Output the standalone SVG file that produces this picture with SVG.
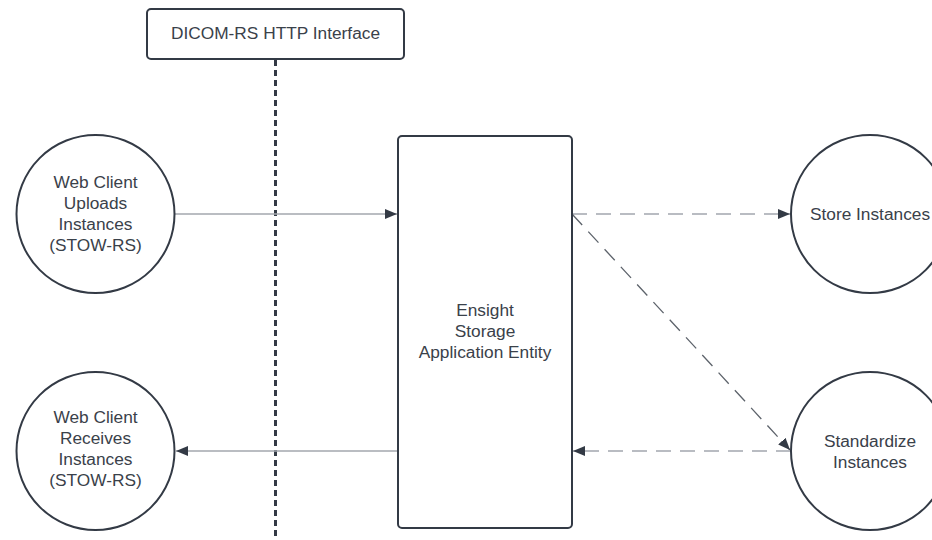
<svg xmlns="http://www.w3.org/2000/svg" width="932" height="540" viewBox="0 0 932 540">
<defs>
<style>
.shape{fill:#ffffff;stroke:#333a45;stroke-width:2}
.lbl{font-family:"Liberation Sans",Arial,sans-serif;font-size:17.3px;fill:#3a414a;text-anchor:middle}
.conn{fill:none;stroke:#a3a7ae;stroke-width:1.5}
.dash{stroke-dasharray:15 9}
.diag{stroke:#5d636b;stroke-width:1.3;stroke-dasharray:15 9}
.lifeline{fill:none;stroke:#333a45;stroke-width:3;stroke-dasharray:6 4}
</style>
<marker id="arr" viewBox="0 0 12 10" refX="12" refY="5" markerWidth="12" markerHeight="10" markerUnits="userSpaceOnUse" orient="auto">
<path d="M0,0 L12,5 L0,10 Z" fill="#333a45"/>
</marker>
</defs>
<rect width="932" height="540" fill="#ffffff"/>
<g id="connectors">
<line class="lifeline" x1="275.5" y1="60" x2="275.5" y2="540"/>
<line class="conn" x1="175" y1="214" x2="397" y2="214" marker-end="url(#arr)"/>
<line class="conn" x1="398" y1="451" x2="176" y2="451" marker-end="url(#arr)"/>
<line class="conn dash" x1="572" y1="214" x2="790" y2="214" marker-end="url(#arr)"/>
<line class="conn diag" x1="572" y1="214" x2="790" y2="450" marker-end="url(#arr)"/>
<line class="conn dash" x1="791" y1="451" x2="573" y2="451" marker-end="url(#arr)"/>
</g>
<g id="interface">
<rect class="shape" x="147" y="9" width="257" height="50" rx="4"/>
<text class="lbl" x="275.5" y="38.5">DICOM-RS HTTP Interface</text>
</g>
<g id="upload">
<circle class="shape" cx="95.5" cy="214" r="79"/>
<text class="lbl" x="95.5" y="187.5">Web Client</text>
<text class="lbl" x="95.5" y="208.5">Uploads</text>
<text class="lbl" x="95.5" y="229.5">Instances</text>
<text class="lbl" x="95.5" y="250.5">(STOW-RS)</text>
</g>
<g id="receive">
<circle class="shape" cx="95.5" cy="451" r="79"/>
<text class="lbl" x="95.5" y="423">Web Client</text>
<text class="lbl" x="95.5" y="444">Receives</text>
<text class="lbl" x="95.5" y="465">Instances</text>
<text class="lbl" x="95.5" y="486">(STOW-RS)</text>
</g>
<g id="storage">
<rect class="shape" x="398" y="136" width="174" height="392" rx="4"/>
<text class="lbl" x="485" y="316">Ensight</text>
<text class="lbl" x="485" y="337">Storage</text>
<text class="lbl" x="485" y="358">Application Entity</text>
</g>
<g id="store">
<circle class="shape" cx="870" cy="214" r="79"/>
<text class="lbl" x="870" y="220">Store Instances</text>
</g>
<g id="standardize">
<circle class="shape" cx="870" cy="451" r="79"/>
<text class="lbl" x="870" y="447">Standardize</text>
<text class="lbl" x="870" y="468">Instances</text>
</g>
</svg>
